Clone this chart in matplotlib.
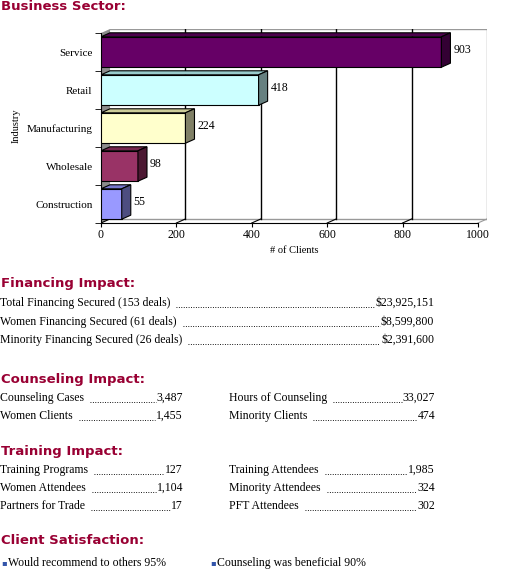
import matplotlib
matplotlib.use('Agg')
import matplotlib.pyplot as plt
from matplotlib.patches import Polygon
from matplotlib.lines import Line2D

# chart data (bottom to top)
industries = ['Construction', 'Wholesale', 'Manufacturing', 'Retail', 'Service']
clients = [55, 98, 224, 418, 903]
front_colors = ['#9999ff', '#993366', '#ffffcc', '#ccffff', '#660066']
top_colors = ['#7777cc', '#77284f', '#cccc99', '#99cccc', '#4d004d']
side_colors = ['#4d4d80', '#4d1933', '#808066', '#668080', '#330033']
x_ticks = [0, 200, 400, 600, 800, 1000]

financing_labels = ['Total Financing Secured (153 deals)',
                    'Women Financing Secured (61 deals)',
                    'Minority Financing Secured (26 deals)']
financing_values = ['$23,925,151', '$8,599,800', '$2,391,600']

counseling_left = [('Counseling Cases', '3,487'), ('Women Clients', '1,455')]
counseling_right = [('Hours of Counseling', '33,027'), ('Minority Clients', '474')]

training_left = [('Training Programs', '127'), ('Women Attendees', '1,104'),
                 ('Partners for Trade', '17')]
training_right = [('Training Attendees', '1,985'), ('Minority Attendees', '324'),
                  ('PFT Attendees', '302')]

satisfaction = ['Would recommend to others 95%', 'Counseling was beneficial 90%']

W, H = 509, 581
HEAD_COLOR = '#990033'
SERIF = 'Liberation Serif'
HEAD_FONT = 'DejaVu Sans'


def fx(px):
    return px / W


def fy(px):
    return 1 - px / H


fig = plt.figure(figsize=(W / 100, H / 100), dpi=100)
fig.patch.set_facecolor('white')

# ---- 3D-looking bar chart ----
ax = fig.add_axes([fx(101), fy(223), (487 - 101) / W, (223 - 29) / H])
dx = 24      # depth offset in data units (x)
dy = 0.106   # depth offset in category units (y)
bh = 0.8
ax.set_xlim(0, 1000 + dx)
ax.set_ylim(-0.5, 4.5 + dy)

# left wall
ax.add_patch(Polygon([(0, -0.5), (dx, -0.5 + dy), (dx, 4.5 + dy), (0, 4.5)],
                     closed=True, facecolor='#8c8c8c', edgecolor='none', zorder=1))
# back wall frame and gridlines
ax.plot([dx, 1000 + dx, 1000 + dx], [4.5 + dy, 4.5 + dy, -0.5 + dy],
        color='#999999', lw=1, zorder=1)
ax.plot([dx, 1000 + dx], [-0.5 + dy, -0.5 + dy], color='#999999', lw=1, zorder=1)
for v in x_ticks[1:-1]:
    ax.plot([v + dx, v + dx], [-0.5 + dy, 4.5 + dy], color='black', lw=1, zorder=1)
for v in x_ticks:
    c = '#999999' if v == x_ticks[-1] else 'black'
    ax.plot([v, v + dx], [-0.5, -0.5 + dy], color=c, lw=0.8, zorder=1)

ypos = list(range(len(industries)))
ax.barh(ypos, clients, height=bh, color=front_colors, edgecolor='black',
        linewidth=0.8, zorder=3)
for y, v, tc, sc in zip(ypos, clients, top_colors, side_colors):
    top = y + bh / 2
    bot = y - bh / 2
    ax.add_patch(Polygon([(0, top), (dx, top + dy), (v + dx, top + dy), (v, top)],
                         closed=True, facecolor=tc, edgecolor='black', lw=0.8, zorder=3))
    ax.add_patch(Polygon([(v, bot), (v, top), (v + dx, top + dy), (v + dx, bot + dy)],
                         closed=True, facecolor=sc, edgecolor='black', lw=0.8, zorder=3))
    ax.annotate(str(v), xy=(v + dx, y + dy / 2), xytext=(2, 0), textcoords='offset points',
                va='center', ha='left', fontsize=8.5, family=SERIF)

for s in ['top', 'right']:
    ax.spines[s].set_visible(False)
ax.spines['bottom'].set_bounds(0, 1000)
ax.spines['left'].set_bounds(-0.5, 4.5)
ax.set_xticks(x_ticks)
ax.set_xticklabels([str(t) for t in x_ticks], fontsize=8.5, family=SERIF)
ax.tick_params(axis='x', length=3, pad=1)
ax.set_yticks(ypos)
ax.set_yticklabels(industries, fontsize=8, family=SERIF)
ax.tick_params(axis='y', length=0, pad=6)
ax.set_yticks([i - 0.5 for i in range(len(industries) + 1)], minor=True)
ax.tick_params(axis='y', which='minor', length=4)
ax.set_xlabel('# of Clients', fontsize=7.5, family=SERIF, labelpad=4)
ax.set_ylabel('Industry', fontsize=7.5, family=SERIF, labelpad=4)
ax.patch.set_alpha(0)

# ---- text sections ----
def heading(text, y):
    fig.text(fx(1), fy(y), text, fontsize=9.5, fontweight='bold', family=HEAD_FONT,
             color=HEAD_COLOR, va='center', ha='left')


leaders = []


def row(label, value, x0, x1, y):
    t1 = fig.text(fx(x0), fy(y), label, fontsize=8.5, family=SERIF, va='center', ha='left')
    t2 = fig.text(fx(x1), fy(y), value, fontsize=8.5, family=SERIF, va='center', ha='right')
    leaders.append((t1, t2, y))


heading('Business Sector:', 7)
heading('Financing Impact:', 283)
for i, (lab, val) in enumerate(zip(financing_labels, financing_values)):
    row(lab, val, 0, 434, 303 + i * 18.5)

heading('Counseling Impact:', 379)
for i, (lab, val) in enumerate(counseling_left):
    row(lab, val, 0, 183, 398 + i * 18)
for i, (lab, val) in enumerate(counseling_right):
    row(lab, val, 229, 435, 398 + i * 18)

heading('Training Impact:', 451)
for i, (lab, val) in enumerate(training_left):
    row(lab, val, 0, 183, 470 + i * 18)
for i, (lab, val) in enumerate(training_right):
    row(lab, val, 229, 435, 470 + i * 18)

heading('Client Satisfaction:', 540)
for xb, txt in zip([1, 210], satisfaction):
    fig.text(fx(xb), fy(563), '\u25aa', fontsize=6, color='#3355aa', va='center', ha='left',
             family='DejaVu Sans')
    fig.text(fx(xb + 7), fy(563), txt, fontsize=8.5, family=SERIF, va='center', ha='left')

# dotted leaders between labels and values
fig.canvas.draw()
renderer = fig.canvas.get_renderer()
for t1, t2, y in leaders:
    b1 = t1.get_window_extent(renderer)
    b2 = t2.get_window_extent(renderer)
    yb = fy(y + 4)
    fig.add_artist(Line2D([(b1.x1 + 6) / W, (b2.x0 - 1) / W], [yb, yb],
                          transform=fig.transFigure, color='black', lw=0.7,
                          linestyle=(0, (0.9, 1.6))))

fig.savefig('out.png', dpi=100)
